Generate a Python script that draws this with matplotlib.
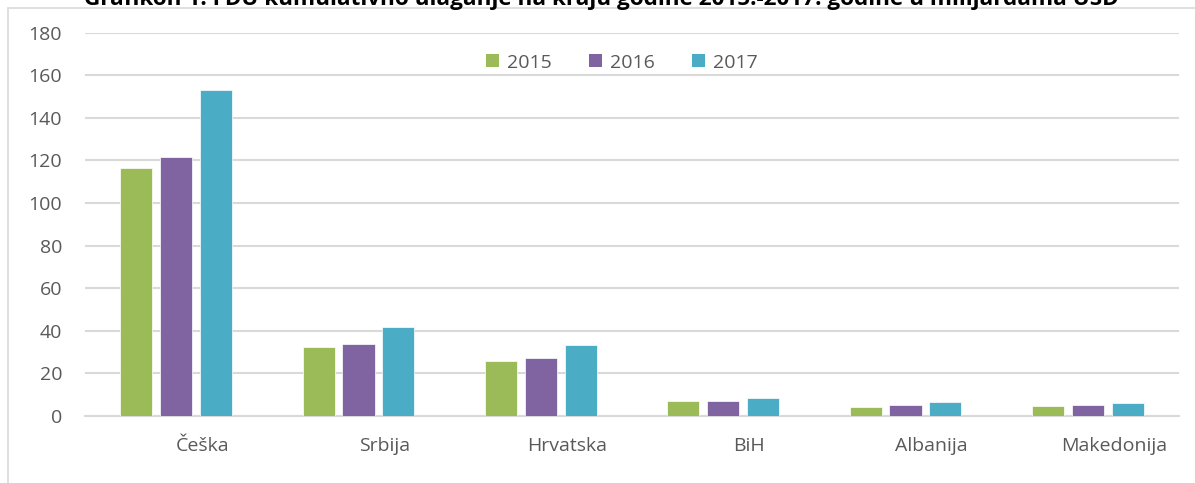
import matplotlib
matplotlib.use("Agg")
import matplotlib.pyplot as plt
import matplotlib.transforms as mtransforms
from matplotlib.patches import Rectangle, Patch
import numpy as np

categories = ["Češka", "Srbija", "Hrvatska", "BiH", "Albanija", "Makedonija"]
years = ["2015", "2016", "2017"]
v2015 = [116.3, 32.4, 25.9, 6.9, 4.4, 4.8]
v2016 = [121.6, 33.8, 27.4, 6.9, 5.0, 5.0]
v2017 = [153.3, 41.6, 33.3, 8.3, 6.7, 5.9]
yticks = [0, 20, 40, 60, 80, 100, 120, 140, 160, 180]
title = "Grafikon 1: FDU kumulativno ulaganje na kraju godine 2015.-2017. godine u milijardama USD"

colors = ["#9BBB59", "#8064A2", "#4BACC6"]
txt = "#595959"
grid = "#D9D9D9"

plt.rcParams['font.family'] = ['Open Sans', 'DejaVu Sans']

W, H = 1195, 483
fig = plt.figure(figsize=(W / 100, H / 100), dpi=100)

# chart frame
fig.patches.append(Rectangle((8 / W, -0.1), 1.2, 1 - 8.5 / H + 0.1, transform=fig.transFigure,
                             fill=False, edgecolor="#D9D9D9", linewidth=1.2))

ax = fig.add_axes([85 / W, 1 - 416 / H, (1179 - 85) / W, (416 - 32.7) / H])
x = np.arange(len(categories))
step = 0.219
bw = 0.176
for i, (vals, c, lab) in enumerate(zip([v2015, v2016, v2017], colors, years)):
    ax.bar(x + (i - 1) * step, vals, width=bw, color=c, label=lab, zorder=3,
           edgecolor="white", linewidth=0.5)

ax.set_xlim(-0.5, len(categories) - 0.5)
ax.set_ylim(0, 180)
ax.set_yticks(yticks)
ax.set_yticklabels([str(t) for t in yticks])
ax.yaxis.grid(True, color=grid, linewidth=1.5, zorder=0)
ax.set_axisbelow(True)
for s in ["top", "right", "left"]:
    ax.spines[s].set_visible(False)
ax.spines["bottom"].set_color(grid)
ax.spines["bottom"].set_linewidth(1.5)
ax.tick_params(axis="y", length=0, pad=16.5, labelsize=14, labelcolor=txt)
ax.tick_params(axis="x", length=0, pad=15, labelsize=14, labelcolor=txt)
ax.set_xticks(x)
ax.set_xticklabels(categories)
offset = mtransforms.ScaledTranslation(26 / 100, 0, fig.dpi_scale_trans)
for lbl in ax.get_xticklabels():
    lbl.set_transform(lbl.get_transform() + offset)

handles = [Patch(facecolor=c, edgecolor="none") for c in colors]
fig.legend(handles, years, loc="center", bbox_to_anchor=(622 / W, 1 - 62.5 / H), ncol=3,
           frameon=False, fontsize=14, labelcolor=txt, handlelength=0.67, handleheight=0.67,
           handletextpad=0.41, columnspacing=1.9)

fig.text(601 / W, 1 - 5 / H, title, ha="center", va="baseline", fontsize=16.2,
         fontweight="bold", color="#000000")

fig.savefig("out.png", dpi=100)
